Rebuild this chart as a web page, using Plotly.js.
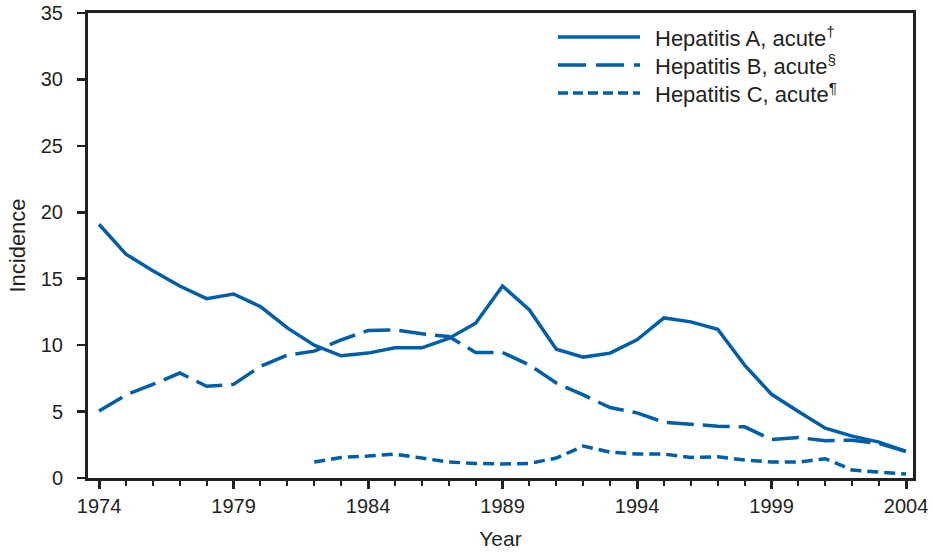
<!DOCTYPE html>
<html>
<head>
<meta charset="utf-8">
<script src="https://cdn.plot.ly/plotly-3.0.1.min.js"></script>
<style>html,body{margin:0;padding:0;background:#fff;}#chart{width:933px;height:554px;}</style>
</head>
<body>
<div id="chart"></div>
<script>
const years = [1974,1975,1976,1977,1978,1979,1980,1981,1982,1983,1984,1985,1986,1987,1988,1989,1990,1991,1992,1993,1994,1995,1996,1997,1998,1999,2000,2001,2002,2003,2004];
const hepA = [19.1,16.85,15.6,14.45,13.5,13.85,12.9,11.3,10.0,9.2,9.4,9.8,9.8,10.5,11.65,14.45,12.65,9.7,9.1,9.4,10.4,12.05,11.75,11.2,8.5,6.3,5.0,3.75,3.15,2.7,2.0];
const hepB = [5.05,6.25,7.05,7.9,6.9,7.05,8.4,9.25,9.55,10.4,11.1,11.15,10.85,10.65,9.45,9.45,8.5,7.15,6.25,5.3,4.9,4.2,4.05,3.9,3.85,2.9,3.05,2.8,2.85,2.6,2.0];
const yearsC = [1982,1983,1984,1985,1986,1987,1988,1989,1990,1991,1992,1993,1994,1995,1996,1997,1998,1999,2000,2001,2002,2003,2004];
const hepC = [1.2,1.55,1.65,1.8,1.5,1.2,1.1,1.05,1.1,1.5,2.4,1.95,1.8,1.8,1.55,1.6,1.35,1.2,1.2,1.45,0.6,0.45,0.3];
const seriesNames = ['Hepatitis A, acute<sup>†</sup>','Hepatitis B, acute<sup>§</sup>','Hepatitis C, acute<sup>¶</sup>'];
const xTickVals = [1974,1979,1984,1989,1994,1999,2004];
const yTickVals = [0,5,10,15,20,25,30,35];

const blue = 'rgb(0,94,168)';
const ink = '#231f20';
const font = 'Arial, "Liberation Sans", Helvetica, sans-serif';
const dashes = ['solid','27px,9px','11px,6px'];

const traces = [
  {x: years, y: hepA, name: seriesNames[0], mode: 'lines', line: {color: blue, width: 3.5, dash: dashes[0]}},
  {x: years, y: hepB, name: seriesNames[1], mode: 'lines', line: {color: blue, width: 3.5, dash: dashes[1]}},
  {x: yearsC, y: hepC, name: seriesNames[2], mode: 'lines', line: {color: blue, width: 3.5, dash: dashes[2]}}
];

// custom legend
const legX0 = (558-88)/825, legX1 = (640-88)/825, legTextX = (653-88)/825;
const legY = [1-(37-13)/465, 1-(65-13)/465, 1-(93-13)/465];
const legDash = ['solid','28px,10px','10px,5px'];
const shapes = [], annotations = [];
for (let i = 0; i < 3; i++) {
  shapes.push({type:'line', xref:'paper', yref:'paper', x0:legX0, x1:legX1, y0:legY[i], y1:legY[i], line:{color:blue, width:3.5, dash:legDash[i]}});
  annotations.push({xref:'paper', yref:'paper', x:legTextX, y:legY[i], xanchor:'left', yanchor:'middle', text:seriesNames[i], showarrow:false, font:{family:font, size:22, color:ink}});
}

const layout = {
  width: 933, height: 554,
  margin: {l: 88, r: 20, t: 13, b: 76},
  paper_bgcolor: '#fff', plot_bgcolor: '#fff',
  showlegend: false,
  font: {family: font, size: 20, color: ink},
  xaxis: {
    range: [1973.59, 2004.26], tickvals: xTickVals, ticktext: xTickVals.map(String),
    ticks: 'outside', ticklen: 8, tickwidth: 3, tickcolor: ink,
    minor: {dtick: 1, tick0: 1974, ticks: 'outside', ticklen: 5, tickwidth: 2, tickcolor: ink},
    showline: true, linewidth: 3, linecolor: ink, mirror: true,
    showgrid: false, zeroline: false,
    tickfont: {family: font, size: 20, color: ink},
    title: {text: 'Year', font: {family: font, size: 21, color: ink}, standoff: 16}
  },
  yaxis: {
    range: [0, 35], tickvals: yTickVals,
    ticks: 'outside', ticklen: 8, tickwidth: 2.5, tickcolor: ink,
    ticklabelstandoff: 10,
    showline: true, linewidth: 3, linecolor: ink, mirror: true,
    showgrid: false, zeroline: false,
    tickfont: {family: font, size: 20, color: ink},
    title: {text: 'Incidence', font: {family: font, size: 22, color: ink}, standoff: 10}
  },
  shapes: shapes,
  annotations: annotations
};

Plotly.newPlot('chart', traces, layout, {displayModeBar: false, staticPlot: true});
</script>
</body>
</html>
